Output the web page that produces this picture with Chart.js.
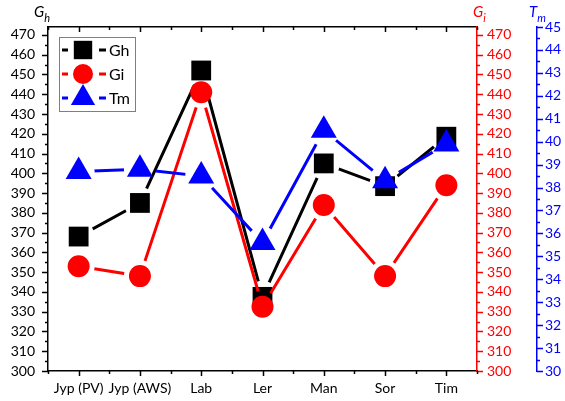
<!DOCTYPE html>
<html>
<head>
<meta charset="utf-8">
<script src="https://cdn.jsdelivr.net/npm/chart.js@4/dist/chart.umd.min.js"></script>
<style>
  html, body { margin: 0; padding: 0; background: #fff; }
  #wrap { width: 565px; height: 401px; }
</style>
</head>
<body>
<div id="wrap"><canvas id="chart"></canvas></div>
<script>
// sites and the three measured series
const SITES = ['Jyp (PV)', 'Jyp (AWS)', 'Lab', 'Ler', 'Man', 'Sor', 'Tim'];
const GH = [368, 385, 452, 337.5, 405, 393.5, 418.5];
const GI = [353, 348, 441, 332.5, 384, 348, 394];
const TM = [38.7, 38.8, 38.5, 35.6, 40.5, 38.3, 39.9];

// axis ranges: major label step and minor tick step
const G_RANGE = { min: 300, max: 474, step: 10, minor: 5 };
const T_RANGE = { min: 30, max: 45, step: 1, minor: 0.5 };

const RED = '#ff0000';
const BLUE = '#0000ff';
const FONT = "Lato, 'Open Sans', sans-serif";

const SERIES = [
    { label: 'Gh', data: GH, axis: 'y',   color: '#000000', style: 'rect',     radius: 14 },
    { label: 'Gi', data: GI, axis: 'yGi', color: RED,       style: 'circle',   radius: 11 },
    { label: 'Tm', data: TM, axis: 'yTm', color: BLUE,      style: 'triangle', radius: 15 },
];

// each series = a line (cut open around its markers) + a marker-only set
const datasets = [];
SERIES.forEach((s, i) => {
    const depth = (SERIES.length - i) * 2;
    datasets.push({
        label: s.label, data: s.data, yAxisID: s.axis,
        borderColor: s.color, borderWidth: 3, pointRadius: 0, pointHoverRadius: 0,
        tension: 0, fill: false, order: depth, markerGap: 16,
    });
    datasets.push({
        label: s.label, data: s.data, yAxisID: s.axis, showLine: false,
        pointStyle: s.style, pointRadius: s.radius, pointHoverRadius: s.radius,
        pointBackgroundColor: s.color, pointBorderWidth: 0, order: depth - 1,
    });
});

const markerGaps = {
    id: 'markerGaps',
    beforeDatasetDraw(chart, args) {
        const gap = chart.data.datasets[args.index].markerGap;
        if (!gap) return;
        const ctx = chart.ctx;
        ctx.save();
        ctx.beginPath();
        ctx.rect(0, 0, chart.width, chart.height);
        args.meta.data.forEach(p => {
            ctx.moveTo(p.x + gap, p.y);
            ctx.arc(p.x, p.y, gap, 0, Math.PI * 2, true);
        });
        ctx.clip('evenodd');
    },
    afterDatasetDraw(chart, args) {
        if (chart.data.datasets[args.index].markerGap) chart.ctx.restore();
    },
};

const VALUE_AXES = [
    { id: 'y',   range: G_RANGE, side: -1, color: '#000000' },
    { id: 'yGi', range: G_RANGE, side: 1,  color: RED },
    { id: 'yTm', range: T_RANGE, side: 1,  color: BLUE },
];

const axisTicks = {
    id: 'axisTicks',
    afterDraw(chart) {
        const { ctx, chartArea: a } = chart;
        ctx.save();
        ctx.lineWidth = 1.5;
        VALUE_AXES.forEach(ax => {
            const sc = chart.scales[ax.id];
            const x0 = ax.side < 0 ? sc.right : sc.left;
            ctx.strokeStyle = ax.color;
            ctx.beginPath();
            for (let v = ax.range.min; v <= ax.range.max + 1e-9; v += ax.range.minor) {
                const k = v / ax.range.step;
                const len = Math.abs(k - Math.round(k)) < 1e-6 ? 6 : 3;
                const y = Math.round(sc.getPixelForValue(v)) + 0.5;
                ctx.moveTo(x0, y);
                ctx.lineTo(x0 + ax.side * len, y);
            }
            ctx.stroke();
        });
        // category ticks: centres long, boundaries short; bottom outward, top inward
        const xs = chart.scales.x;
        const half = (xs.getPixelForValue(1) - xs.getPixelForValue(0)) / 2;
        ctx.strokeStyle = '#000000';
        ctx.beginPath();
        SITES.forEach((_, i) => {
            const cx = xs.getPixelForValue(i);
            [[cx, 5], [cx - half, 3], [cx + half, 3]].forEach(([x, len]) => {
                const px = Math.round(x) + 0.5;
                ctx.moveTo(px, a.bottom); ctx.lineTo(px, a.bottom + len);
                ctx.moveTo(px, a.top); ctx.lineTo(px, a.top + len);
            });
        });
        ctx.stroke();
        ctx.restore();
    },
};

// italic axis names with subscripts above each value axis
const AXIS_NAMES = [
    { id: 'y',   main: 'G', sub: 'h', color: '#000000', dx: -14 },
    { id: 'yGi', main: 'G', sub: 'i', color: RED,       dx: -4 },
    { id: 'yTm', main: 'T', sub: 'm', color: BLUE,      dx: -8 },
];

const axisNames = {
    id: 'axisNames',
    afterDraw(chart) {
        const ctx = chart.ctx;
        ctx.save();
        ctx.textBaseline = 'alphabetic';
        ctx.textAlign = 'left';
        AXIS_NAMES.forEach(n => {
            const sc = chart.scales[n.id];
            const x = (n.id === 'y' ? sc.right : sc.left) + n.dx;
            ctx.fillStyle = n.color;
            ctx.font = `italic 15px ${FONT}`;
            ctx.fillText(n.main, x, 17);
            const w = ctx.measureText(n.main).width;
            ctx.font = `italic 11px ${FONT}`;
            ctx.fillText(n.sub, x + w, 22);
        });
        ctx.restore();
    },
};

// boxed key: line stub, marker, line stub, name
const keyBox = {
    id: 'keyBox',
    afterDraw(chart) {
        const { ctx, chartArea: a } = chart;
        const left = a.left + 11, top = a.top + 10, w = 76, h = 74;
        ctx.save();
        ctx.fillStyle = '#ffffff';
        ctx.fillRect(left, top, w, h);
        ctx.strokeStyle = '#7f7f7f';
        ctx.lineWidth = 1;
        ctx.strokeRect(left + 0.5, top + 0.5, w, h);
        SERIES.forEach((s, i) => {
            const y = top + 13 + i * 24;
            const mx = left + 24;
            ctx.strokeStyle = s.color;
            ctx.fillStyle = s.color;
            ctx.lineWidth = 3;
            ctx.beginPath();
            ctx.moveTo(left + 3, y); ctx.lineTo(left + 9, y);
            ctx.moveTo(left + 40, y); ctx.lineTo(left + 47, y);
            ctx.stroke();
            Chart.helpers.drawPoint(ctx, { pointStyle: s.style, radius: s.radius - 1, rotation: 0, borderWidth: 0 }, mx, y);
            ctx.fillStyle = '#000000';
            ctx.font = `16px ${FONT}`;
            ctx.textBaseline = 'middle';
            ctx.fillText(s.label, left + 50, y + 1);
        });
        ctx.restore();
    },
};

const tickFont = { family: FONT, size: 14 };
const valueTicks = (r, color, padding) => ({
    stepSize: r.step, includeBounds: false, color, padding, font: tickFont,
    callback: v => (Math.abs(v / r.step - Math.round(v / r.step)) < 1e-6 ? v : ''),
});
const noGrid = { display: false, drawTicks: false };

new Chart(document.getElementById('chart'), {
    type: 'line',
    data: { labels: SITES, datasets },
    options: {
        animation: false, responsive: true, maintainAspectRatio: false,
        events: [],
        layout: { padding: 0 },
        plugins: { legend: { display: false }, tooltip: { enabled: false } },
        scales: {
            x: {
                type: 'category', position: 'bottom', offset: true,
                grid: noGrid, border: { color: '#000', width: 1.5 },
                ticks: { color: '#000', font: tickFont, padding: 9, maxRotation: 0, autoSkip: false },
                afterFit: s => { s.height = 30; },
            },
            xTop: {
                type: 'category', position: 'top', offset: true,
                grid: noGrid, border: { color: '#000', width: 1.5 },
                ticks: { display: false },
                afterFit: s => { s.height = 27; },
            },
            y: {
                position: 'left', min: G_RANGE.min, max: G_RANGE.max,
                grid: noGrid, border: { color: '#000', width: 1.5 },
                ticks: valueTicks(G_RANGE, '#000', 13),
                afterFit: s => { s.width = 48; },
            },
            yGi: {
                position: 'right', min: G_RANGE.min, max: G_RANGE.max,
                grid: noGrid, border: { color: RED, width: 1.5 },
                ticks: valueTicks(G_RANGE, RED, 10),
                afterFit: s => { s.width = 60; },
            },
            yTm: {
                position: 'right', min: T_RANGE.min, max: T_RANGE.max,
                grid: noGrid, border: { color: BLUE, width: 1.5 },
                ticks: valueTicks(T_RANGE, BLUE, 8),
                afterFit: s => { s.width = 28; },
            },
        },
    },
    plugins: [markerGaps, axisTicks, axisNames, keyBox],
});
</script>
</body>
</html>
